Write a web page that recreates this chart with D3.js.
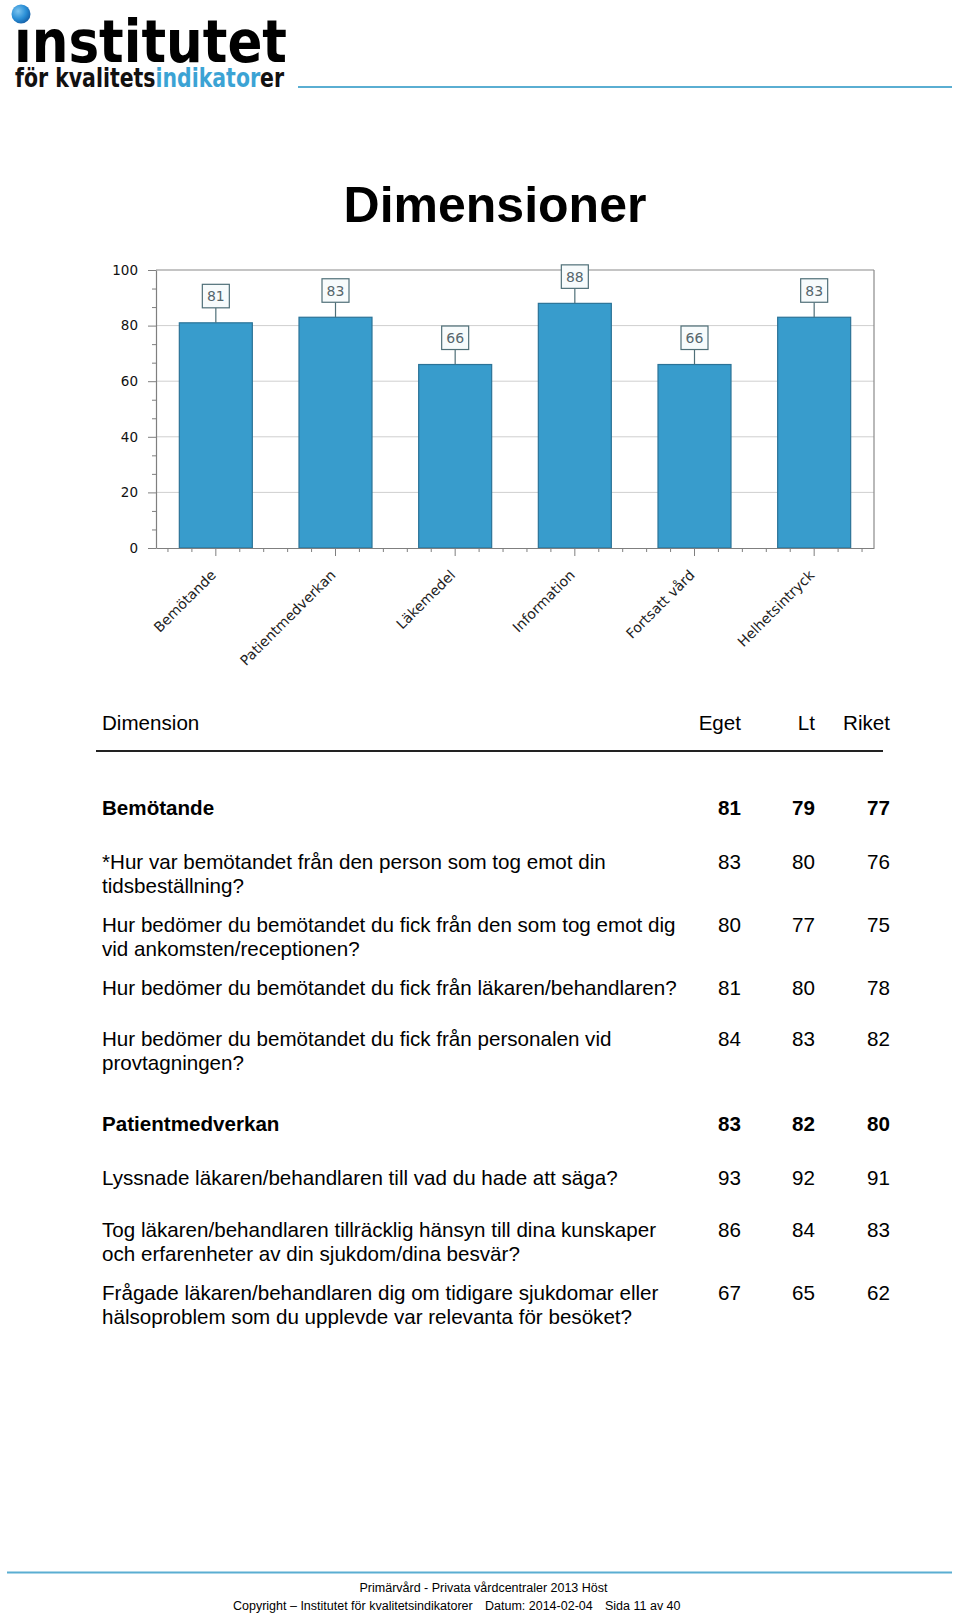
<!DOCTYPE html>
<html>
<head>
<meta charset="utf-8">
<script src="https://cdn.jsdelivr.net/npm/d3@7"></script>
<style>
html,body{margin:0;padding:0;background:#fff;}
svg{display:block;}
</style>
</head>
<body>
<div id="chart"></div>
<script>
// ---- Data ----
const categories = ["Bemötande","Patientmedverkan","Läkemedel","Information","Fortsatt vård","Helhetsintryck"];
const values = [81,83,66,88,66,83];
const yTicks = [0,20,40,60,80,100];

const tableHeaders = ["Dimension","Eget","Lt","Riket"];
const rowText = [
  ["Bemötande"],
  ["*Hur var bemötandet från den person som tog emot din","tidsbeställning?"],
  ["Hur bedömer du bemötandet du fick från den som tog emot dig","vid ankomsten/receptionen?"],
  ["Hur bedömer du bemötandet du fick från läkaren/behandlaren?"],
  ["Hur bedömer du bemötandet du fick från personalen vid","provtagningen?"],
  ["Patientmedverkan"],
  ["Lyssnade läkaren/behandlaren till vad du hade att säga?"],
  ["Tog läkaren/behandlaren tillräcklig hänsyn till dina kunskaper","och erfarenheter av din sjukdom/dina besvär?"],
  ["Frågade läkaren/behandlaren dig om tidigare sjukdomar eller","hälsoproblem som du upplevde var relevanta för besöket?"]
];
const rowBold = [true,false,false,false,false,true,false,false,false];
const egetValues  = [81,83,80,81,84,83,93,86,67];
const ltValues    = [79,80,77,80,83,82,92,84,65];
const riketValues = [77,76,75,78,82,80,91,83,62];

const logoMain = "\u0131nstitutet";
const logoSubParts = ["för kvalitets","indikator","er"];
const footerLine1 = "Primärvård - Privata vårdcentraler 2013 Höst";
const footerLine2 = ["Copyright – Institutet för kvalitetsindikatorer","Datum: 2014-02-04","Sida 11 av 40"];

// ---- Layout ----
const W = 960, H = 1617;
const svg = d3.select("#chart").append("svg").attr("width", W).attr("height", H);

const defs = svg.append("defs");
const rg = defs.append("radialGradient").attr("id","dotg").attr("cx","35%").attr("cy","35%").attr("r","70%");
rg.append("stop").attr("offset","0%").attr("stop-color","#7cc4ef");
rg.append("stop").attr("offset","60%").attr("stop-color","#2a8fd6");
rg.append("stop").attr("offset","100%").attr("stop-color","#1560a8");

// ---- Logo ----
svg.append("text")
  .attr("x", 14).attr("y", 62)
  .attr("font-family","DejaVu Sans").attr("font-weight","bold").attr("font-size", 58)
  .attr("textLength", 273).attr("lengthAdjust","spacingAndGlyphs")
  .attr("fill","#000")
  .text(logoMain);
svg.append("circle").attr("cx", 21).attr("cy", 14).attr("r", 9.5).attr("fill","url(#dotg)");

const subX0 = 15, subX1 = 284;
const subText = svg.append("text")
  .attr("x", subX0).attr("y", 87)
  .attr("font-family","DejaVu Sans Condensed, DejaVu Sans").attr("font-weight","bold").attr("font-size", 26)
  .attr("textLength", subX1 - subX0).attr("lengthAdjust","spacingAndGlyphs")
  .text(logoSubParts.join(""));
// hard-stop gradient so "indikator" is blue within one text element
const iStart = logoSubParts[0].length, iEnd = iStart + logoSubParts[1].length - 1;
const node = subText.node();
let bx0 = 151.5, bx1 = 253.5;
try {
  const a = node.getEndPositionOfChar(iStart - 1).x, b = node.getStartPositionOfChar(iStart).x;
  const c = node.getEndPositionOfChar(iEnd).x, d = node.getStartPositionOfChar(iEnd + 1).x;
  bx0 = (a + b) / 2; bx1 = (c + d) / 2;
} catch (e) {}
const sg = defs.append("linearGradient").attr("id","subg").attr("gradientUnits","userSpaceOnUse")
  .attr("x1",subX0).attr("x2",subX1).attr("y1",0).attr("y2",0);
const s1 = (bx0 - subX0)/(subX1 - subX0), s2 = (bx1 - subX0)/(subX1 - subX0);
[[0,"#111"],[s1,"#111"],[s1,"#3ba3d4"],[s2,"#3ba3d4"],[s2,"#111"],[1,"#111"]].forEach(([o,c]) =>
  sg.append("stop").attr("offset",o).attr("stop-color",c));
subText.attr("fill","url(#subg)");

svg.append("line").attr("x1", 298).attr("x2", 952).attr("y1", 87).attr("y2", 87)
  .attr("stroke","#5aaed2").attr("stroke-width", 2);

// ---- Title ----
svg.append("text")
  .attr("x", 495).attr("y", 222).attr("text-anchor","middle")
  .attr("font-family","Liberation Sans, Arial").attr("font-weight","bold").attr("font-size", 50)
  .attr("fill","#000").text("Dimensioner");

// ---- Chart ----
const plotL = 156, plotR = 874, plotT = 270, plotB = 548;
const x = d3.scaleBand().domain(categories).range([plotL, plotR]).paddingInner(0.39).paddingOuter(0.195);
const y = d3.scaleLinear().domain([0,100]).range([plotB, plotT]);

// gridlines
svg.append("g").selectAll("line").data(yTicks.filter(d => d > 0 && d < 100)).join("line")
  .attr("x1", plotL).attr("x2", plotR).attr("y1", d => y(d)).attr("y2", d => y(d))
  .attr("stroke","#cfcfcf").attr("stroke-width", 1);

// frame top & right
svg.append("line").attr("x1", plotL).attr("x2", plotR).attr("y1", y(100)).attr("y2", y(100))
  .attr("stroke","#8a8a8a").attr("stroke-width", 1.2);
svg.append("line").attr("x1", plotR).attr("x2", plotR).attr("y1", y(100)).attr("y2", y(0))
  .attr("stroke","#8a8a8a").attr("stroke-width", 1.2);

// bars
svg.append("g").selectAll("rect").data(values).join("rect")
  .attr("x", (d,i) => x(categories[i]))
  .attr("y", d => y(d))
  .attr("width", x.bandwidth())
  .attr("height", d => y(0) - y(d))
  .attr("fill","#389ccc")
  .attr("stroke","#2b7397").attr("stroke-width", 1.2);

// value label boxes
const lab = svg.append("g").selectAll("g").data(values).join("g")
  .attr("transform", (d,i) => `translate(${x(categories[i]) + x.bandwidth()/2},${y(d)})`);
lab.append("line").attr("x1",0).attr("x2",0).attr("y1",0).attr("y2",-15)
  .attr("stroke","#4f6f78").attr("stroke-width",1.2);
lab.append("rect").attr("x",-13.5).attr("y",-38.5).attr("width",27).attr("height",23.5)
  .attr("fill","#f7fbfc").attr("stroke","#4f6f78").attr("stroke-width",1.2);
lab.append("text").attr("x",0).attr("y",-21.5).attr("text-anchor","middle")
  .attr("font-family","DejaVu Sans").attr("font-size",14).attr("fill","#55666c")
  .text(d => d);

// y axis
const yAxis = svg.append("g").attr("transform",`translate(${plotL},0)`)
  .call(d3.axisLeft(y).tickValues(yTicks).tickSize(8).tickSizeOuter(0).tickPadding(10));
yAxis.select(".domain").attr("stroke","#7f7f7f").attr("stroke-width",1.2);
yAxis.selectAll(".tick line").attr("stroke","#7f7f7f");
yAxis.selectAll(".tick text").attr("font-family","DejaVu Sans").attr("font-size",13.5).attr("fill","#111");
const minorY = d3.range(0, 16).map(i => i * 20 / 3).filter(v => v <= 100.01 && Math.round(v) % 20 !== 0);
svg.append("g").attr("transform",`translate(${plotL},0)`)
  .call(d3.axisLeft(y).tickValues(minorY).tickSize(4).tickSizeOuter(0).tickFormat(""))
  .call(g => g.select(".domain").remove())
  .selectAll(".tick line").attr("stroke","#7f7f7f");

// x axis
const xAxis = svg.append("g").attr("transform",`translate(0,${plotB})`)
  .call(d3.axisBottom(x).tickSize(8).tickSizeOuter(0).tickFormat(""));
xAxis.select(".domain").attr("stroke","#7f7f7f").attr("stroke-width",1.2);
xAxis.selectAll(".tick line").attr("stroke","#7f7f7f");
const minorX = [];
categories.forEach(c => {
  const cx = x(c) + x.bandwidth()/2;
  [-2,-1,1,2].forEach(k => minorX.push(cx + k * x.step()/5));
});
svg.append("g").selectAll("line").data(minorX).join("line")
  .attr("x1", d => d).attr("x2", d => d).attr("y1", plotB).attr("y2", plotB + 4)
  .attr("stroke","#7f7f7f");

// x labels rotated
svg.append("g").selectAll("text").data(categories).join("text")
  .attr("transform", d => `translate(${x(d) + x.bandwidth()/2 + 1},${plotB + 28}) rotate(-45)`)
  .attr("text-anchor","end")
  .attr("font-family","DejaVu Sans").attr("font-size",14).attr("fill","#222")
  .text(d => d);

// ---- Table ----
const colRight = [741, 815, 890];
const font = "Liberation Sans, Arial";
const fs = 20.6;
svg.append("text").attr("x",102).attr("y",730).attr("font-family",font).attr("font-size",fs).attr("fill","#000").text(tableHeaders[0]);
tableHeaders.slice(1).forEach((h,i) => {
  svg.append("text").attr("x",colRight[i]).attr("y",730).attr("text-anchor","end")
    .attr("font-family",font).attr("font-size",fs).attr("fill","#000").text(h);
});
svg.append("line").attr("x1",96).attr("x2",883).attr("y1",751).attr("y2",751)
  .attr("stroke","#222").attr("stroke-width",2);

const rowBaselines = [815, 869, 932, 995, 1046, 1131, 1185, 1237, 1300];
const lineGap = 23.5;
rowText.forEach((lines, r) => {
  const t = svg.append("text").attr("font-family",font).attr("font-size",fs).attr("fill","#000")
    .attr("font-weight", rowBold[r] ? "bold" : "normal");
  lines.forEach((ln, j) => {
    t.append("tspan").attr("x",102).attr("y",rowBaselines[r] + j*lineGap).text(ln);
  });
  [egetValues[r], ltValues[r], riketValues[r]].forEach((v, c) => {
    svg.append("text").attr("x",colRight[c]).attr("y",rowBaselines[r]).attr("text-anchor","end")
      .attr("font-family",font).attr("font-size",fs).attr("fill","#000")
      .attr("font-weight", rowBold[r] ? "bold" : "normal").text(v);
  });
});

// ---- Footer ----
svg.append("line").attr("x1",7).attr("x2",952).attr("y1",1572.5).attr("y2",1572.5)
  .attr("stroke","#5aaed2").attr("stroke-width",2);
svg.append("text").attr("x",483.5).attr("y",1592).attr("text-anchor","middle")
  .attr("font-family",font).attr("font-size",12.5).attr("fill","#000").text(footerLine1);
const fx = [233, 485, 605];
footerLine2.forEach((s,i) => {
  svg.append("text").attr("x",fx[i]).attr("y",1610)
    .attr("font-family",font).attr("font-size",12.5).attr("fill","#000").text(s);
});
</script>
</body>
</html>
